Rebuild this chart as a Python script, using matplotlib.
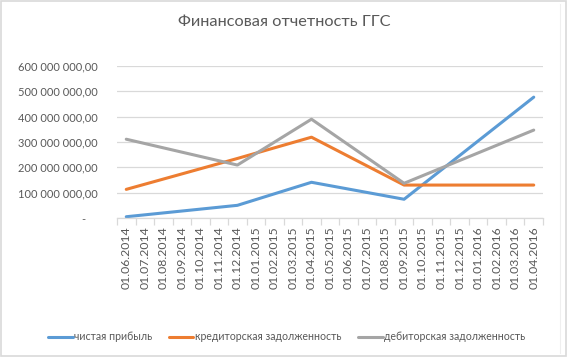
import numpy as np
import matplotlib.pyplot as plt
from matplotlib.ticker import FuncFormatter
from matplotlib.patches import Rectangle
from matplotlib.lines import Line2D

# monthly categories on the x axis
dates = ["01.%02d.%d" % (m, y) for y, m in
         [(2014, m) for m in range(6, 13)] + [(2015, m) for m in range(1, 13)] + [(2016, m) for m in range(1, 5)]]

# reporting dates and values
report_dates = ["01.06.2014", "01.12.2014", "01.04.2015", "01.09.2015", "01.04.2016"]
net_profit = [5e6, 50e6, 141e6, 74e6, 477e6]
payables = [113e6, 235e6, 319e6, 130e6, 130e6]
receivables = [311e6, 209e6, 390e6, 137e6, 347e6]

series = [
    ("чистая прибыль", net_profit, "#5B9BD5"),
    ("кредиторская задолженность", payables, "#ED7D31"),
    ("дебиторская задолженность", receivables, "#A5A5A5"),
]

plt.rcParams["font.family"] = ["Lato", "DejaVu Sans"]
text_color = "#595959"
grid_color = "#d9d9d9"

fig = plt.figure(figsize=(5.68, 3.57), dpi=100)
ax = fig.add_axes([117 / 568, 1 - 218 / 357, 426 / 568, 152 / 357])

xs = [dates.index(d) for d in report_dates]
for label, vals, color in series:
    ax.plot(xs, vals, color=color, lw=2.2, label=label, solid_capstyle="round")

ax.set_xlim(-0.5, len(dates) - 0.5)
ax.set_ylim(0, 600e6)
ax.set_yticks(np.arange(0, 600e6 + 1, 100e6))


def fmt(v, pos):
    if v == 0:
        return "-    "
    s = "{:,.0f}".format(v).replace(",", " ")
    return s + ",00"


ax.yaxis.set_major_formatter(FuncFormatter(fmt))
ax.grid(axis="y", color=grid_color, lw=0.9)
ax.set_axisbelow(True)
for sp in ["top", "right", "left"]:
    ax.spines[sp].set_visible(False)
ax.spines["bottom"].set_color(grid_color)
ax.spines["bottom"].set_linewidth(0.9)

ax.set_xticks(range(len(dates)))
ax.set_xticklabels(dates, rotation=90, fontsize=8.8, color=text_color)
ax.tick_params(axis="x", length=0, pad=6)
ax.set_xticks(np.arange(-0.5, len(dates)), minor=True)
ax.tick_params(axis="x", which="minor", length=5, color=grid_color, width=0.9)
ax.tick_params(axis="y", length=0, labelsize=8, labelcolor=text_color, pad=14)

fig.text(0.5, 1 - 22 / 357, "Финансовая отчетность ГГС", ha="center", va="center",
         fontsize=11.8, color=text_color)

fig.legend(loc="center", bbox_to_anchor=(0.505, 1 - 337 / 357), ncol=3, frameon=False,
           fontsize=7.6, handlelength=2.3, handletextpad=0.15, columnspacing=1.6,
           labelcolor=text_color)

# chart frame
fig.patches.append(Rectangle((0.002, 0.003), 0.995, 0.993, transform=fig.transFigure,
                             fill=False, edgecolor="#d9d9d9", lw=1.2))
fig.lines.append(Line2D([560 / 568, 560 / 568], [0.01, 0.99], transform=fig.transFigure,
                        color="#efefef", lw=0.8))

fig.savefig("out.png", dpi=100, facecolor="white")
